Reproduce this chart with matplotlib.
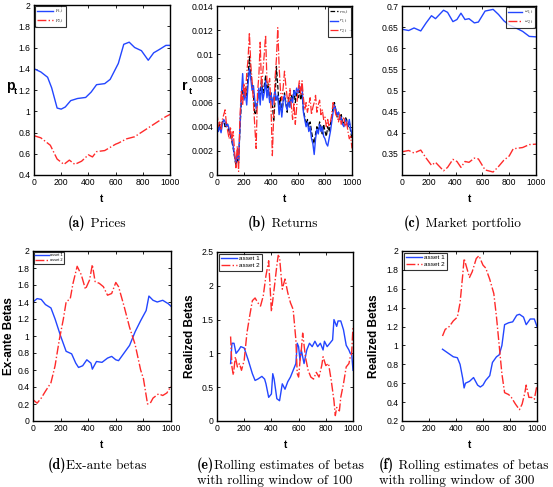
import numpy as np
import matplotlib
matplotlib.use("Agg")
import matplotlib.pyplot as plt
from matplotlib.ticker import FuncFormatter

# ---------------- data ----------------
# (a) prices
pa_t = [0, 50, 100, 130, 170, 200, 230, 270, 320, 380, 420, 460, 520, 560, 620, 660, 700, 740, 790, 840, 880, 920, 970, 1000]
p1 = [1.40, 1.37, 1.32, 1.22, 1.03, 1.02, 1.04, 1.10, 1.12, 1.13, 1.18, 1.25, 1.26, 1.30, 1.45, 1.63, 1.65, 1.60, 1.57, 1.48, 1.55, 1.58, 1.62, 1.62]
pb_t = [0, 50, 120, 170, 220, 260, 300, 350, 400, 430, 460, 520, 600, 620, 680, 740, 800, 860, 920, 970, 1000]
p2 = [0.77, 0.75, 0.68, 0.55, 0.50, 0.54, 0.50, 0.53, 0.59, 0.57, 0.62, 0.63, 0.69, 0.70, 0.74, 0.76, 0.81, 0.86, 0.91, 0.95, 0.97]

# (b) returns, t = 0, 10, ..., 1000
r_t = list(range(0, 1001, 10))
r1 = [.0045, .0036, .0040, .0035, .0042, .0046, .0044, .0040, .0042, .0038,
      .0034, .0030, .0024, .0016, .0010, .0018, .0012, .0040, .0065, .0084,
      .0062, .0068, .0058, .0075, .0088, .0080, .0070, .0074, .0062, .0055,
      .0060, .0072, .0058, .0076, .0062, .0068, .0078, .0064, .0072, .0060,
      .0068, .0058, .0064, .0070, .0062, .0066, .0050, .0060, .0048, .0062,
      .0066, .0058, .0054, .0062, .0056, .0064, .0060, .0070, .0066, .0072,
      .0068, .0074, .0070, .0074, .0052, .0046, .0040, .0044, .0036, .0040,
      .0030, .0026, .0017, .0030, .0038, .0034, .0042, .0036, .0040, .0032,
      .0030, .0026, .0024, .0030, .0036, .0044, .0052, .0058, .0054, .0050,
      .0052, .0046, .0048, .0042, .0040, .0046, .0044, .0040, .0046, .0038, .0034]
rm = [.0040, .0037, .0042, .0038, .0044, .0045, .0040, .0043, .0040, .0036,
      .0033, .0028, .0022, .0015, .0008, .0014, .0010, .0038, .0060, .0070,
      .0064, .0072, .0066, .0082, .0098, .0084, .0074, .0066, .0050, .0052,
      .0062, .0070, .0066, .0080, .0068, .0074, .0082, .0068, .0076, .0062,
      .0068, .0060, .0044, .0062, .0090, .0074, .0058, .0064, .0052, .0060,
      .0068, .0060, .0052, .0064, .0058, .0066, .0062, .0070, .0060, .0068,
      .0064, .0070, .0062, .0068, .0054, .0048, .0042, .0046, .0040, .0044,
      .0036, .0030, .0026, .0034, .0040, .0036, .0044, .0040, .0034, .0042,
      .0036, .0032, .0040, .0036, .0042, .0048, .0056, .0060, .0054, .0048,
      .0052, .0046, .0050, .0044, .0042, .0048, .0046, .0040, .0044, .0036, .0030]
r2 = [.0052, .0040, .0044, .0038, .0046, .0050, .0054, .0042, .0036, .0030,
      .0040, .0028, .0036, .0020, .0006, .0024, .0003, .0048, .0070, .0058,
      .0076, .0064, .0084, .0096, .0118, .0092, .0078, .0060, .0040, .0022,
      .0068, .0082, .0110, .0072, .0086, .0100, .0116, .0078, .0074, .0080,
      .0056, .0016, .0050, .0080, .0096, .0122, .0090, .0070, .0062, .0072,
      .0086, .0074, .0064, .0060, .0072, .0058, .0046, .0060, .0042, .0056,
      .0070, .0078, .0066, .0078, .0064, .0054, .0060, .0052, .0058, .0064,
      .0050, .0056, .0060, .0066, .0052, .0058, .0062, .0050, .0054, .0046,
      .0048, .0040, .0046, .0040, .0044, .0050, .0060, .0056, .0050, .0048,
      .0044, .0050, .0042, .0046, .0048, .0040, .0044, .0036, .0030, .0032, .0022]

# (c) market portfolio weights
w1_t = [0, 50, 90, 140, 180, 220, 250, 310, 340, 380, 410, 440, 470, 500, 540, 570, 620, 680, 720, 760, 800, 850, 900, 950, 1000]
w1 = [0.645, 0.642, 0.648, 0.641, 0.660, 0.677, 0.670, 0.690, 0.685, 0.663, 0.668, 0.683, 0.668, 0.670, 0.660, 0.662, 0.688, 0.692, 0.680, 0.665, 0.655, 0.648, 0.640, 0.628, 0.627]
w2_t = [0, 50, 90, 140, 180, 220, 250, 310, 340, 380, 410, 440, 470, 500, 540, 570, 620, 680, 720, 760, 800, 830, 900, 950, 1000]
w2 = [0.355, 0.358, 0.352, 0.359, 0.340, 0.323, 0.330, 0.310, 0.318, 0.337, 0.332, 0.318, 0.332, 0.330, 0.340, 0.338, 0.312, 0.307, 0.320, 0.335, 0.345, 0.362, 0.365, 0.372, 0.373]

# (d) ex-ante betas
d1_t = [0, 30, 60, 90, 130, 160, 200, 240, 280, 310, 330, 360, 390, 420, 430, 460, 500, 540, 570, 600, 620, 660, 700, 740, 780, 820, 840, 870, 900, 940, 980, 1000]
d1 = [1.40, 1.44, 1.43, 1.37, 1.33, 1.20, 1.00, 0.82, 0.79, 0.68, 0.63, 0.65, 0.72, 0.68, 0.61, 0.70, 0.69, 0.74, 0.76, 0.72, 0.71, 0.80, 0.89, 1.05, 1.18, 1.30, 1.47, 1.42, 1.40, 1.42, 1.38, 1.35]
d2_t = [0, 30, 60, 90, 130, 160, 190, 220, 240, 270, 290, 320, 350, 380, 410, 430, 450, 480, 510, 540, 570, 600, 620, 660, 700, 740, 780, 800, 830, 850, 870, 910, 940, 970, 1000]
d2 = [0.25, 0.21, 0.27, 0.35, 0.45, 0.65, 0.95, 1.20, 1.40, 1.44, 1.62, 1.82, 1.72, 1.55, 1.66, 1.84, 1.64, 1.62, 1.58, 1.48, 1.50, 1.63, 1.58, 1.35, 1.10, 0.90, 0.60, 0.50, 0.20, 0.21, 0.27, 0.32, 0.30, 0.33, 0.41]

# (e) rolling window 100
e1_t = [100, 110, 125, 140, 160, 175, 200, 230, 260, 280, 300, 330, 350, 360, 380, 400, 410, 420, 440, 460, 480, 500, 520, 540, 560, 580, 590, 600, 610, 620, 640, 660, 680, 700, 720, 740, 760, 780, 790, 810, 830, 850, 860, 880, 890, 910, 930, 950, 970, 980, 990, 1000]
e1 = [0.85, 1.15, 1.15, 1.00, 1.05, 1.10, 1.08, 0.90, 0.70, 0.60, 0.62, 0.66, 0.62, 0.55, 0.35, 0.40, 0.70, 0.62, 0.33, 0.30, 0.55, 0.47, 0.58, 0.65, 0.75, 0.85, 1.15, 1.10, 0.90, 1.05, 0.85, 1.05, 1.15, 1.10, 1.18, 1.10, 1.15, 1.05, 1.18, 1.10, 1.15, 1.20, 1.50, 1.40, 1.48, 1.48, 1.35, 1.12, 1.05, 1.00, 1.00, 0.75]
e2_t = [100, 110, 120, 135, 150, 165, 180, 200, 220, 240, 260, 280, 300, 320, 340, 360, 380, 390, 400, 420, 440, 450, 460, 480, 500, 520, 540, 560, 580, 590, 600, 610, 620, 630, 650, 670, 690, 710, 730, 750, 770, 780, 800, 820, 840, 860, 870, 880, 900, 910, 930, 950, 970, 980, 990, 1000]
e2 = [1.25, 0.80, 0.68, 0.95, 0.80, 0.85, 0.75, 0.90, 1.30, 1.55, 1.78, 1.82, 1.75, 1.70, 1.85, 2.15, 2.37, 2.00, 1.62, 1.95, 2.30, 2.45, 2.42, 1.95, 2.10, 1.90, 1.75, 1.65, 1.20, 0.70, 0.65, 0.88, 1.05, 1.30, 0.95, 0.75, 0.65, 0.62, 0.72, 0.65, 0.82, 0.95, 0.82, 0.85, 0.60, 0.30, 0.08, 0.20, 0.15, 0.35, 0.55, 0.80, 0.85, 0.95, 1.00, 1.40]

# (f) rolling window 300
f1_t = [300, 320, 350, 380, 410, 430, 450, 460, 470, 500, 530, 560, 580, 600, 620, 650, 670, 700, 720, 740, 760, 790, 820, 850, 870, 900, 920, 950, 980, 1000]
f1 = [0.96, 0.94, 0.91, 0.88, 0.87, 0.80, 0.65, 0.55, 0.60, 0.62, 0.66, 0.58, 0.56, 0.58, 0.63, 0.68, 0.82, 0.88, 0.90, 1.00, 1.22, 1.24, 1.25, 1.32, 1.33, 1.30, 1.22, 1.28, 1.28, 1.20]
f2_t = [300, 320, 350, 380, 410, 430, 450, 460, 480, 500, 520, 550, 570, 600, 620, 650, 680, 700, 720, 740, 760, 790, 810, 840, 870, 890, 910, 920, 940, 960, 980, 1000]
f2 = [1.10, 1.17, 1.20, 1.26, 1.30, 1.45, 1.75, 1.92, 1.82, 1.72, 1.78, 1.92, 1.95, 1.85, 1.82, 1.70, 1.55, 1.30, 1.00, 0.70, 0.50, 0.48, 0.45, 0.38, 0.32, 0.38, 0.50, 0.58, 0.45, 0.45, 0.43, 0.58]

x_ticks = [0, 200, 400, 600, 800, 1000]

# ---------------- style ----------------
W, H = 553, 487
BLUE = "#2346ff"
RED = "#ff2a2a"
plt.rcParams["font.family"] = ["Liberation Sans", "DejaVu Sans"]
plt.rcParams["mathtext.fontset"] = "cm"

fig = plt.figure(figsize=(W / 100, H / 100), dpi=100)


def add_ax(l, t, r, b):
    return fig.add_axes([l / W, 1 - b / H, (r - l) / W, (b - t) / H])


def style(ax, ylim, yticks):
    ax.set_xlim(0, 1000)
    ax.set_ylim(*ylim)
    ax.set_xticks(x_ticks)
    ax.set_yticks(yticks)
    fmt = FuncFormatter(lambda v, p: ("%g" % round(v, 6)))
    ax.xaxis.set_major_formatter(fmt)
    ax.yaxis.set_major_formatter(fmt)
    ax.tick_params(direction="in", length=2.5, width=0.6, labelsize=6.2,
                   top=True, right=True, pad=2.5)
    for s in ax.spines.values():
        s.set_linewidth(1.0)
    ax.set_xlabel("t", fontsize=7, fontweight="bold", labelpad=5)


def small_legend(ax, handles, labels, loc, fs, hl):
    lg = ax.legend(handles, labels, loc=loc, fontsize=fs, handlelength=hl,
                   borderpad=0.35, labelspacing=0.25, handletextpad=0.3,
                   borderaxespad=0.25, fancybox=False, frameon=True)
    lg.get_frame().set_edgecolor("black")
    lg.get_frame().set_linewidth(0.8)
    return lg


def ftext(x, y, s, **kw):
    fig.text(x / W, 1 - y / H, s, **kw)


# (a)
ax = add_ax(34, 5, 170, 175)
la, = ax.plot(pa_t, p1, color=BLUE, lw=1.0)
lb, = ax.plot(pb_t, p2, color=RED, lw=1.0, ls="-.")
style(ax, (0.4, 2.0), np.arange(0.4, 2.01, 0.2))
small_legend(ax, [la, lb], [r"$p_{1,t}$", r"$p_{2,t}$"], "upper left", 3.5, 3.4)

# (b)
ax = add_ax(217, 6, 352, 175)
l0, = ax.plot(r_t, rm, color="black", lw=0.9, ls="--")
l1, = ax.plot(r_t, r1, color=BLUE, lw=1.0)
l2, = ax.plot(r_t, r2, color=RED, lw=0.9, ls="-.")
style(ax, (0, 0.014), np.arange(0, 0.01401, 0.002))
small_legend(ax, [l0, l1, l2], [r"$r_{m,t}$", r"$r_{1,t}$", r"$r_{2,t}$"], "upper right", 3.5, 1.6)

# (c)
ax = add_ax(402, 6, 536, 175)
la, = ax.plot(w1_t, w1, color=BLUE, lw=1.0)
lb, = ax.plot(w2_t, w2, color=RED, lw=1.0, ls="-.")
style(ax, (0.3, 0.7), np.arange(0.35, 0.701, 0.05))
small_legend(ax, [la, lb], [r"$\omega_{1,t}$", r"$\omega_{2,t}$"], "upper right", 3.5, 3.0)

# (d)
ax = add_ax(33, 251, 171, 421)
la, = ax.plot(d1_t, d1, color=BLUE, lw=1.0)
lb, = ax.plot(d2_t, d2, color=RED, lw=1.0, ls="-.")
style(ax, (0, 2.0), np.arange(0, 2.01, 0.2))
small_legend(ax, [la, lb], ["asset 1", "asset 2"], "upper left", 2.8, 3.6)

# (e)
ax = add_ax(217, 252, 353, 421)
la, = ax.plot(e1_t, e1, color=BLUE, lw=1.0)
lb, = ax.plot(e2_t, e2, color=RED, lw=1.0, ls="-.")
style(ax, (0, 2.5), np.arange(0, 2.51, 0.5))
small_legend(ax, [la, lb], ["asset 1", "asset 2"], "upper left", 4.6, 2.6)

# (f)
ax = add_ax(402, 251, 537, 421)
la, = ax.plot(f1_t, f1, color=BLUE, lw=1.0)
lb, = ax.plot(f2_t, f2, color=RED, lw=1.0, ls="-.")
style(ax, (0.2, 2.0), np.arange(0.2, 2.01, 0.2))
small_legend(ax, [la, lb], ["asset 1", "asset 2"], "upper left", 4.6, 2.6)

# y labels
ftext(10, 86, "p", fontsize=10, fontweight="bold", ha="center", va="center")
ftext(15, 92, "t", fontsize=6.5, fontweight="bold", ha="center", va="center")
ftext(185, 86, "r", fontsize=10, fontweight="bold", ha="center", va="center")
ftext(190, 92, "t", fontsize=6.5, fontweight="bold", ha="center", va="center")
ftext(9, 336, "Ex-ante Betas", fontsize=8.5, fontweight="bold", rotation=90, ha="center", va="center")
ftext(190, 336, "Realized Betas", fontsize=8.5, fontweight="bold", rotation=90, ha="center", va="center")
ftext(374, 336, "Realized Betas", fontsize=8.5, fontweight="bold", rotation=90, ha="center", va="center")


# captions
def caption(x, y, bold, rest, line2=None, fs=9.6):
    t1 = fig.text(x / W, 1 - y / H, bold, fontsize=fs + 0.6, family="cmb10", va="baseline", ha="left")
    fig.canvas.draw()
    bb = t1.get_window_extent()
    fig.text(bb.x1 / W, 1 - y / H, rest, fontsize=fs, family="cmr10", va="baseline", ha="left")
    if line2:
        fig.text(x / W, 1 - (y + 15) / H, line2, fontsize=fs, family="cmr10", va="baseline", ha="left")


caption(68, 227, "(a)", " Prices")
caption(248, 227, "(b)", " Returns")
caption(404, 227, "(c)", " Market portfolio")
caption(48, 469, "(d)", "Ex-ante betas")
caption(197, 469, "(e)", "Rolling estimates of betas", "with rolling window of 100")
caption(379, 469, "(f)", " Rolling estimates of betas", "with rolling window of 300")

fig.savefig("out.png", dpi=100)
